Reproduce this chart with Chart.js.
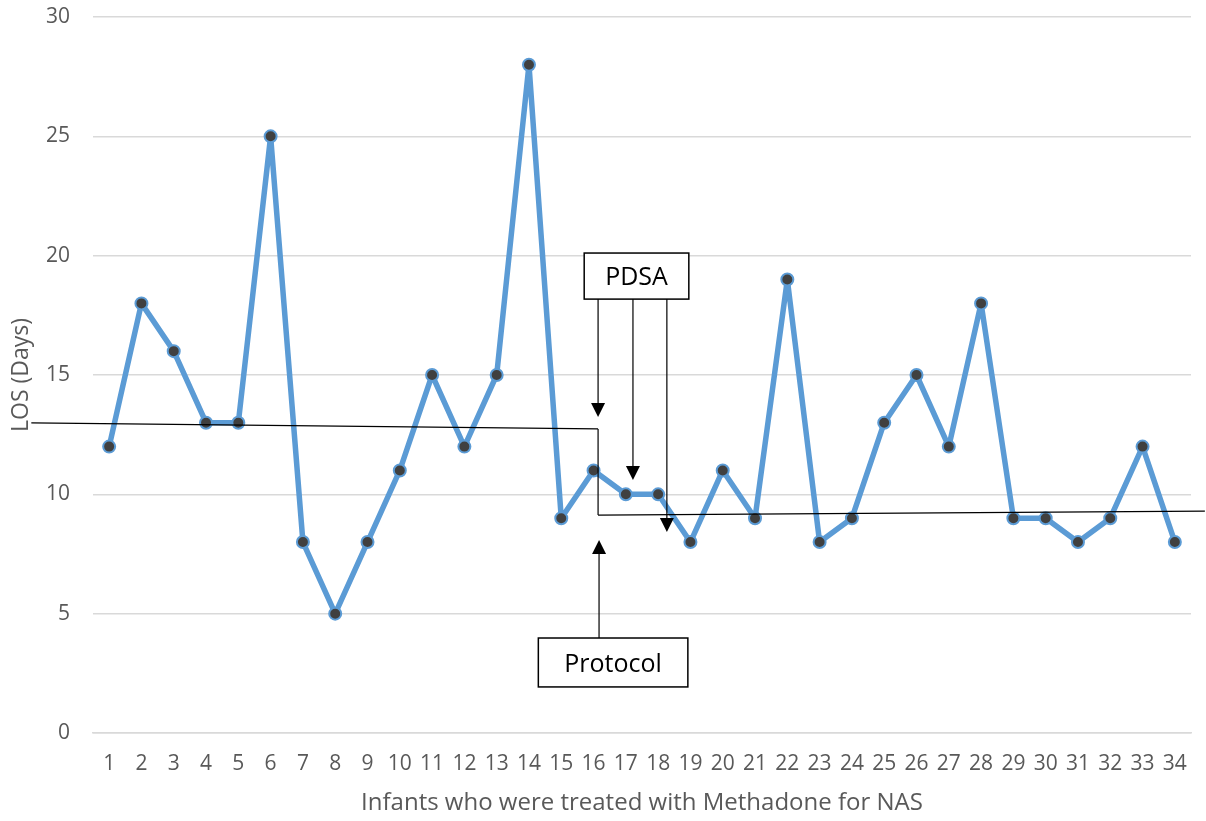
<!DOCTYPE html>
<html>
<head>
<meta charset="utf-8">
<script src="https://cdn.jsdelivr.net/npm/chart.js@4"></script>
<style>
  body { margin: 0; background: #fff; }
  #wrap { width: 1206px; height: 821px; }
</style>
</head>
<body>
<div id="wrap"><canvas id="chart"></canvas></div>
<script>
const infants = ["1","2","3","4","5","6","7","8","9","10","11","12","13","14","15","16","17",
  "18","19","20","21","22","23","24","25","26","27","28","29","30","31","32","33","34"];
const losDays = [12,18,16,13,13,25,8,5,8,11,15,12,15,28,9,11,10,10,8,11,9,19,8,9,13,15,12,18,9,9,8,9,12,8];

// annotation shapes, in chart units (x = infant number, y = days)
const meanLines = [
  [[-1.41, 12.99], [16.14, 12.74]],
  [[16.14, 12.74], [16.14, 9.13]],
  [[16.14, 9.13], [34.93, 9.30]]
];
const pdsaBox = { x1: 15.71, x2: 18.95, y1: 20.11, y2: 18.18, text: "PDSA" };
const protocolBox = { x1: 14.29, x2: 18.92, y1: 3.98, y2: 1.93, text: "Protocol" };
const arrows = [
  [16.14, 18.18, 13.24],
  [17.22, 18.18, 10.60],
  [18.27, 18.18, 8.42],
  [16.17, 3.98, 8.09]
];

const annotate = {
  id: "annotate",
  afterDatasetsDraw(chart) {
    const ctx = chart.ctx;
    const xs = chart.scales.x, ys = chart.scales.y;
    const px = v => xs.getPixelForValue(v - 1);
    const py = v => ys.getPixelForValue(v);
    ctx.save();
    ctx.strokeStyle = "#000";
    ctx.fillStyle = "#000";
    ctx.lineWidth = 1.2;
    meanLines.forEach(seg => {
      ctx.beginPath();
      ctx.moveTo(px(seg[0][0]), py(seg[0][1]));
      ctx.lineTo(px(seg[1][0]), py(seg[1][1]));
      ctx.stroke();
    });
    arrows.forEach(a => {
      const x = px(a[0]), y0 = py(a[1]), y1 = py(a[2]);
      const dir = y1 > y0 ? 1 : -1;
      ctx.beginPath();
      ctx.moveTo(x, y0);
      ctx.lineTo(x, y1 - dir * 12);
      ctx.stroke();
      ctx.beginPath();
      ctx.moveTo(x, y1);
      ctx.lineTo(x - 7, y1 - dir * 14);
      ctx.lineTo(x + 7, y1 - dir * 14);
      ctx.closePath();
      ctx.fill();
    });
    [pdsaBox, protocolBox].forEach(b => {
      const l = px(b.x1), r = px(b.x2), t = py(b.y1), bt = py(b.y2);
      ctx.fillStyle = "#fff";
      ctx.fillRect(l, t, r - l, bt - t);
      ctx.lineWidth = 1.5;
      ctx.strokeRect(l, t, r - l, bt - t);
      ctx.fillStyle = "#000";
      ctx.font = "25px 'Open Sans'";
      ctx.textAlign = "center";
      ctx.textBaseline = "middle";
      ctx.fillText(b.text, (l + r) / 2, (t + bt) / 2 + 2);
    });
    ctx.restore();
  }
};

new Chart(document.getElementById("chart"), {
  type: "line",
  data: {
    labels: infants,
    datasets: [{
      data: losDays,
      borderColor: "#5B9BD5",
      borderWidth: 5.5,
      borderJoinStyle: "round",
      tension: 0,
      pointRadius: 6,
      pointBorderWidth: 2,
      pointBackgroundColor: "#404040",
      pointBorderColor: "#5B9BD5"
    }]
  },
  options: {
    responsive: true,
    maintainAspectRatio: false,
    animation: false,
    layout: { padding: { top: 0, right: 15, left: 0, bottom: 0 } },
    plugins: { legend: { display: false }, tooltip: { enabled: false } },
    scales: {
      x: {
        offset: true,
        grid: { display: false, drawTicks: false },
        border: { color: "#d9d9d9", width: 1.5 },
        ticks: { color: "#595959", font: { family: "Open Sans", size: 21 }, maxRotation: 0, autoSkip: false, padding: 18 },
        title: { display: true, text: "Infants who were treated with Methadone for NAS", color: "#595959", font: { family: "Open Sans", size: 24 }, padding: { top: 0, bottom: 3 } },
        afterFit(s) { s.height = 88; }
      },
      y: {
        min: 0, max: 30,
        grid: { color: "#d9d9d9", lineWidth: 1.5, drawTicks: false },
        border: { display: false },
        ticks: { stepSize: 5, color: "#595959", font: { family: "Open Sans", size: 21 }, padding: 23 },
        title: { display: true, text: "LOS (Days)", color: "#595959", font: { family: "Open Sans", size: 23 }, padding: { top: 8, bottom: 0 } },
        afterFit(s) { s.width = 93; s.paddingTop = 17; }
      }
    }
  },
  plugins: [annotate]
});
</script>
</body>
</html>
